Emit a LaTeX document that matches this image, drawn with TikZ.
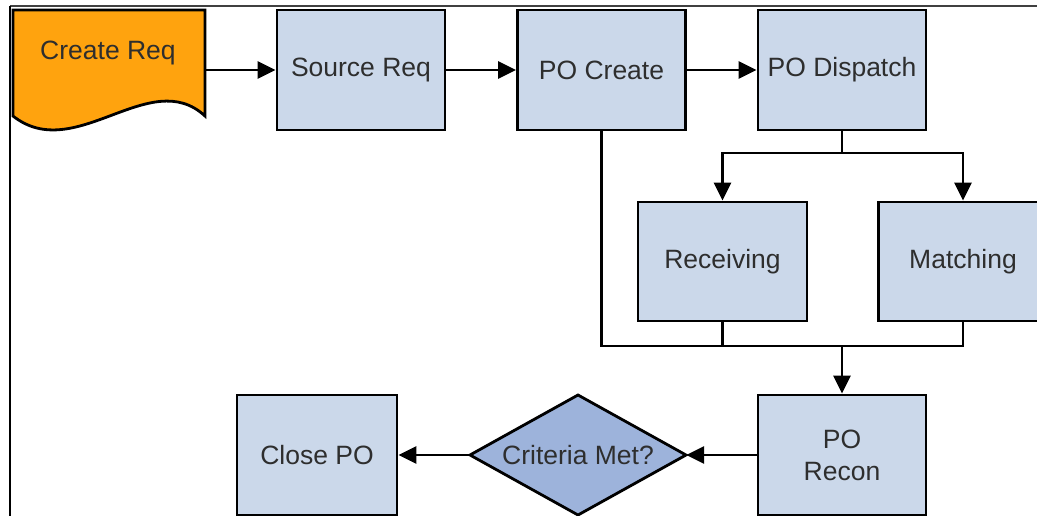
\documentclass[tikz,border=0pt]{standalone}
\usepackage{fontspec}
\setmainfont{Liberation Sans}
\usetikzlibrary{arrows.meta}
\definecolor{boxfill}{HTML}{CBD8EA}
\definecolor{diafill}{HTML}{9DB3DB}
\definecolor{docfill}{HTML}{FFA30E}
\definecolor{txt}{HTML}{2E2E2E}
\tikzset{
  lbl/.style={font=\fontsize{26.5}{32}\selectfont, text=txt, align=center},
  procbox/.style={lbl, draw=black, line width=2.8pt, fill=boxfill, inner sep=0pt,
    minimum width=168pt, minimum height=120pt},
  ghost/.style={lbl, inner sep=0pt},
  conn/.style={draw=black, line width=2.6pt},
  arr/.style={conn, -{Triangle[length=18pt,width=17pt]}},
}
\begin{document}
\begin{tikzpicture}[x=1pt,y=-1pt]
\useasboundingbox (0,0) rectangle (1037,515);
\clip (0,0) rectangle (1037,515);
% frame lines
\draw[line width=1.6pt, draw=black!75] (10,6) -- (1040,6);
\draw[line width=1.6pt, draw=black] (10,6) -- (10,520);
% Create Req document shape
\draw[line width=2.8pt, fill=docfill] (13,10) -- (205,10) -- (205,116)
  .. controls (150,65) and (75,165) .. (13,116) -- cycle;
\node[ghost, minimum width=192pt, minimum height=120pt] (create) at (109,70) {};
\node[ghost] (createtxt) at (108,53) {Create Req};
% top row
\node[procbox] (source) at (361,70) {Source Req};
\node[procbox] (pocreate) at (601.5,70) {PO Create};
\node[procbox] (podispatch) at (842,70) {PO Dispatch};
% middle row
\node[procbox, minimum width=169pt, minimum height=119pt] (receiving) at (722.5,261.5) {Receiving};
\node[procbox, minimum width=169pt, minimum height=119pt] (matching) at (963,261.5) {Matching};
% bottom row
\node[procbox] (porecon) at (842,455) {PO\\Recon};
\node[procbox, minimum width=160pt] (closepo) at (317,455) {Close PO};
\draw[line width=2.8pt, fill=diafill] (470,455) -- (578,395) -- (686,455) -- (578,515) -- cycle;
\node[ghost, minimum width=216pt, minimum height=120pt] (crit) at (578,455) {Criteria Met?};
% connectors top row
\draw[arr] (create.east) -- (source.west);
\draw[arr] (source.east) -- (pocreate.west);
\draw[arr] (pocreate.east) -- (podispatch.west);
% split
\coordinate (split) at (842,153);
\draw[conn] (podispatch.south) -- (split);
\draw[arr] (split) -| (receiving.north);
\draw[arr] (split) -| (matching.north);
% merge
\coordinate (merge) at (842,346);
\draw[conn] (pocreate.south) |- (merge);
\draw[conn] (receiving.south) |- (merge);
\draw[conn] (matching.south) |- (merge);
\draw[arr] (merge) -- (porecon.north);
% bottom connectors
\draw[arr] (porecon.west) -- (crit.east);
\draw[arr] (crit.west) -- (closepo.east);
\end{tikzpicture}
\end{document}
